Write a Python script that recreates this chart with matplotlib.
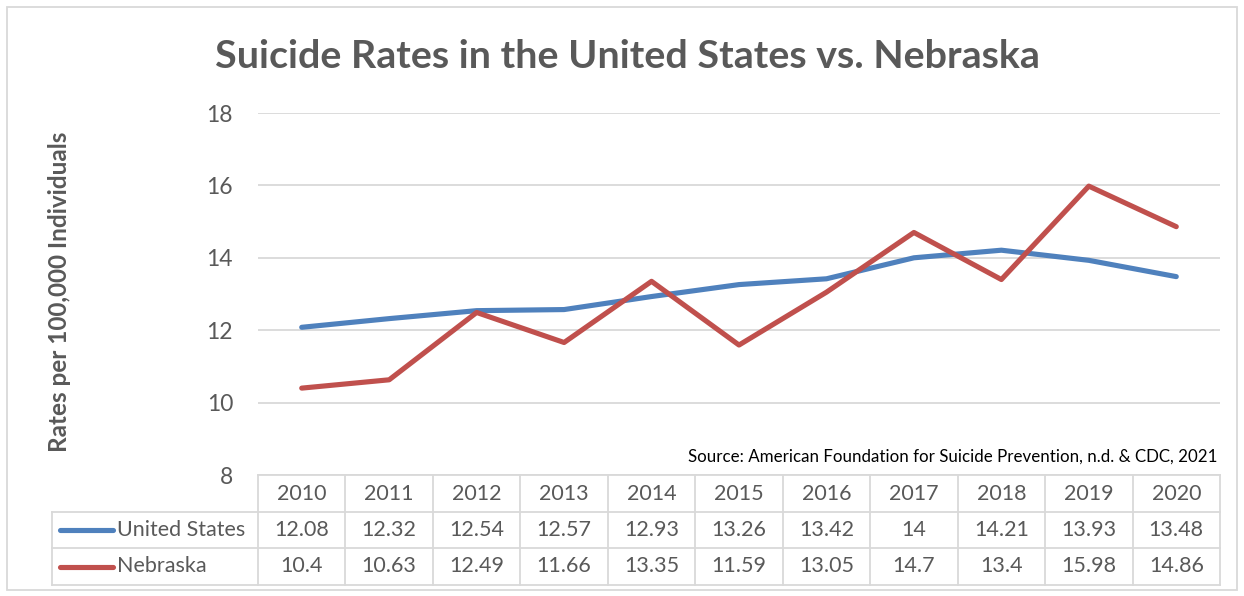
import matplotlib.pyplot as plt
import numpy as np
from matplotlib.lines import Line2D
from matplotlib.transforms import blended_transform_factory

years = [2010, 2011, 2012, 2013, 2014, 2015, 2016, 2017, 2018, 2019, 2020]
us_rates = [12.08, 12.32, 12.54, 12.57, 12.93, 13.26, 13.42, 14, 14.21, 13.93, 13.48]
ne_rates = [10.4, 10.63, 12.49, 11.66, 13.35, 11.59, 13.05, 14.7, 13.4, 15.98, 14.86]
series = [("United States", us_rates, "#4F81BD"), ("Nebraska", ne_rates, "#C0504D")]

W, H = 1244, 596
plt.rcParams['font.family'] = ['Lato', 'DejaVu Sans']
txt = "#595959"
grid = "#D9D9D9"

fig = plt.figure(figsize=(W / 100, H / 100), dpi=100)
fig.patch.set_facecolor("white")

def fx(x):
    return x / W

def fy(y):
    return 1 - y / H

# plot area in pixels
left, right, top, bottom = 258, 1220, 113, 475
ax = fig.add_axes([fx(left), fy(bottom), fx(right - left), (bottom - top) / H])
x = np.arange(len(years))
for name, vals, col in series:
    ax.plot(x, vals, color=col, lw=3.7, solid_capstyle='round', solid_joinstyle='round', zorder=3)

ax.set_xlim(-0.5, len(years) - 0.5)
ax.set_ylim(8, 18)
ax.set_yticks([8, 10, 12, 14, 16, 18])
ax.set_xticks([])
ax.yaxis.grid(True, color=grid, lw=1.3)
ax.set_axisbelow(True)
for s in ax.spines.values():
    s.set_visible(False)
ax.tick_params(axis='y', length=0, labelsize=16.5, labelcolor=txt, pad=18)

fig.text(fx(60), fy(292), "Rates per 100,000 Individuals", fontsize=17.5, fontweight='bold',
         color=txt, rotation=90, ha='center', va='center')
fig.text(fx(627), fy(56), "Suicide Rates in the United States vs. Nebraska", fontsize=28.4,
         fontweight='bold', color=txt, ha='center', va='center')
fig.text(fx(1218), fy(457), "Source: American Foundation for Suicide Prevention, n.d. & CDC, 2021",
         fontsize=12.2, color="#000000", ha='right', va='center')

# data table
rows = [475, 512, 548, 585]
tleft = 52
def hline(y, x0, x1):
    fig.add_artist(Line2D([fx(x0), fx(x1)], [fy(y), fy(y)], color=grid, lw=1.3))
def vline(xp, y0, y1):
    fig.add_artist(Line2D([fx(xp), fx(xp)], [fy(y0), fy(y1)], color=grid, lw=1.3))

hline(rows[0], left, right)
for y in rows[1:]:
    hline(y, tleft, right)
vline(tleft, rows[1], rows[3])
colw = (right - left) / len(years)
for i in range(len(years) + 1):
    vline(left + i * colw, rows[0], rows[3])

tr = blended_transform_factory(ax.transData, fig.transFigure)
for i, yr in enumerate(years):
    ax.text(i, fy((rows[0] + rows[1]) / 2), str(yr), transform=tr, ha='center', va='center',
            fontsize=15.5, color=txt, clip_on=False)
for r, (name, vals, col) in enumerate(series):
    yc = fy((rows[r + 1] + rows[r + 2]) / 2)
    for i, v in enumerate(vals):
        ax.text(i, yc, f"{v:g}", transform=tr, ha='center', va='center', fontsize=15.5,
                color=txt, clip_on=False)
    fig.add_artist(Line2D([fx(60), fx(113)], [yc, yc], color=col, lw=3.7, solid_capstyle='round'))
    fig.text(fx(117), yc, name, fontsize=15.5, color=txt, ha='left', va='center')

# outer chart border
fig.add_artist(plt.Rectangle((fx(7), fy(590)), fx(1230), (590 - 7) / H, fill=False,
                             edgecolor="#D9D9D9", lw=1.3))

fig.savefig("out.png", dpi=100)
